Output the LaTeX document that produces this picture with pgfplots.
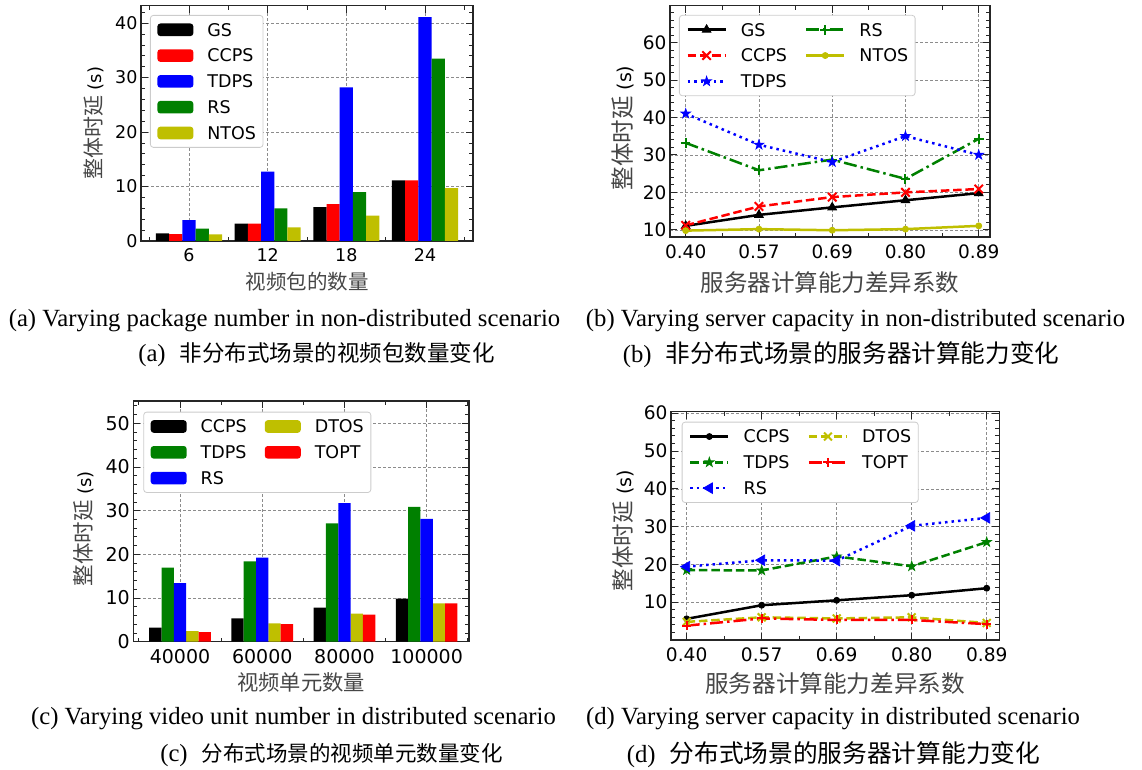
\documentclass[border=0pt]{standalone}
\usepackage{fontspec}
\setmainfont{Liberation Serif}
\newfontfamily\dv{DejaVu Sans}
\newfontfamily\cjk{Noto Sans CJK SC}
\usepackage{graphicx}
\usepackage{pgfplots}
\pgfplotsset{compat=1.18}
\usetikzlibrary{plotmarks}

\newcommand{\fs}[1]{\fontsize{#1}{#1}\selectfont}
\definecolor{mgreen}{RGB}{0,128,0}
\definecolor{myellow}{RGB}{191,191,0}
\definecolor{mred}{RGB}{255,0,0}
\definecolor{mblue}{RGB}{0,0,255}
\definecolor{lblc}{RGB}{70,70,70}

\pgfdeclareplotmark{fstar}{%
  \pgfpathmoveto{\pgfpointpolar{90}{1.3*\pgfplotmarksize}}%
  \pgfpathlineto{\pgfpointpolar{126}{0.5*\pgfplotmarksize}}%
  \pgfpathlineto{\pgfpointpolar{162}{1.3*\pgfplotmarksize}}%
  \pgfpathlineto{\pgfpointpolar{198}{0.5*\pgfplotmarksize}}%
  \pgfpathlineto{\pgfpointpolar{234}{1.3*\pgfplotmarksize}}%
  \pgfpathlineto{\pgfpointpolar{270}{0.5*\pgfplotmarksize}}%
  \pgfpathlineto{\pgfpointpolar{306}{1.3*\pgfplotmarksize}}%
  \pgfpathlineto{\pgfpointpolar{342}{0.5*\pgfplotmarksize}}%
  \pgfpathlineto{\pgfpointpolar{18}{1.3*\pgfplotmarksize}}%
  \pgfpathlineto{\pgfpointpolar{54}{0.5*\pgfplotmarksize}}%
  \pgfpathclose
  \pgfusepathqfillstroke
}

\pgfplotsset{
 common/.style={
  scale only axis, anchor=south west,
  tick align=inside, major tick length=7pt, minor tick length=4pt,
  tick style={black!85, line width=0.8pt},
  axis line style={black!85, line width=1.1pt},
  grid=major, grid style={black!45, line width=0.6pt, dash pattern=on 3pt off 2pt},
  /pgf/number format/assume math mode=true,
  xticklabel style={yshift=-4pt},
  legend cell align=left,
  legend style={draw=black!20, line width=0.8pt, rounded corners=3pt, fill=white,
    font=\dv\fs{17.5}, anchor=north west, inner xsep=7pt, inner ysep=8pt, row sep=13pt,
    nodes={inner sep=0pt, text height=12.8pt, text depth=0pt},
    /tikz/every odd column/.append style={column sep=14pt},
    /tikz/every even column/.append style={column sep=18pt}},
 },
 barleg/.style={legend image code/.code={\fill[##1] (0pt,-6.3pt) rectangle (36pt,6.3pt);}},
 lineleg/.style={legend image code/.code={\draw[##1, mark repeat=2, mark phase=2] plot coordinates {(0pt,0pt) (19pt,0pt) (38pt,0pt)};}},
 dashedm/.style={dash pattern=on 8.5pt off 3.8pt},
 dottedm/.style={dash pattern=on 2.5pt off 4pt},
 dashdotm/.style={dash pattern=on 13pt off 4pt on 2.5pt off 4pt},
}

\begin{document}
\begin{tikzpicture}
\useasboundingbox (0,0) rectangle (1142pt,770pt);

% ---------------- (a) ----------------
\begin{axis}[common, barleg, at={(141pt,529pt)}, width=332pt, height=235.3pt,
  xmin=-0.61, xmax=3.61, ymin=0, ymax=43.2,
  xtick={0,1,2,3}, xticklabels={6,12,18,24}, minor xtick={-0.5,0.5,1.5,2.5,3.5},
  ytick={0,10,20,30,40}, minor ytick={2,4,6,8,12,14,16,18,22,24,26,28,32,34,36,38,42},
  tick label style={font=\dv\fs{17.5}},
  xlabel={\color{lblc}\cjk\fs{20.5}视频包的数量},
  ylabel={{\color{lblc}\cjk\fs{21}整体时延}{\dv\fs{18}\ (s)}},
  every axis x label/.style={at={(axis description cs:0.5,0)}, anchor=center, yshift=-41pt},
  every axis y label/.style={at={(axis description cs:-0.1416,0.5)}, rotate=90, anchor=center},
  legend style={at={(0.0271,0.9605)}},
]
\addplot[ybar, bar width=0.168, bar shift=-0.336, fill=black, draw=none] coordinates {(0,1.41) (1,3.18) (2,6.24) (3,11.13)};
\addplot[ybar, bar width=0.168, bar shift=-0.168, fill=mred, draw=none] coordinates {(0,1.28) (1,3.18) (2,6.79) (3,11.13)};
\addplot[ybar, bar width=0.168, bar shift=0, fill=mblue, draw=none] coordinates {(0,3.85) (1,12.72) (2,28.2) (3,41.1)};
\addplot[ybar, bar width=0.168, bar shift=0.168, fill=mgreen, draw=none] coordinates {(0,2.26) (1,5.99) (2,8.99) (3,33.5)};
\addplot[ybar, bar width=0.168, bar shift=0.336, fill=myellow, draw=none] coordinates {(0,1.22) (1,2.5) (2,4.65) (3,9.72)};
\legend{GS,CCPS,TDPS,RS,NTOS}
\end{axis}

% ---------------- (b) ----------------
\begin{axis}[common, lineleg, at={(670pt,533pt)}, width=320pt, height=231.3pt,
  xmin=-0.214, xmax=4.154, ymin=8.1, ymax=69.8,
  xtick={0,1,2,3,4}, xticklabels={0.40,0.57,0.69,0.80,0.89}, minor xtick={0.5,1.5,2.5,3.5},
  ytick={10,20,30,40,50,60}, minor ytick={10,12,...,68},
  tick label style={font=\dv\fs{18.5}},
  xlabel={\color{lblc}\cjk\fs{23.5}服务器计算能力差异系数},
  ylabel={{\color{lblc}\cjk\fs{23.5}整体时延}{\dv\fs{19}\ (s)}},
  every axis x label/.style={at={(axis description cs:0.5,0)}, anchor=center, yshift=-45.5pt},
  every axis y label/.style={at={(axis description cs:-0.1469,0.471)}, rotate=90, anchor=center},
  legend style={at={(0.028,0.960)}}, legend columns=2,
]
\addplot[black, line width=2.5pt, mark=triangle*, mark size=5pt, mark options={solid, line width=0.8pt}] coordinates {(0,11.07) (1,14.0) (2,16.0) (3,17.9) (4,19.8)};
\addplot[mgreen, line width=2.5pt, dashdotm, mark=+, mark size=4.8pt, mark options={solid, line width=2pt}] coordinates {(0,33.2) (1,25.9) (2,28.75) (3,23.6) (4,34.3)};
\addplot[mred, line width=2.5pt, dashedm, mark=x, mark size=6pt, mark options={solid, line width=2pt}] coordinates {(0,11.2) (1,16.25) (2,18.75) (3,20.0) (4,20.9)};
\addplot[myellow, line width=2.5pt, mark=*, mark size=3pt, mark options={solid, line width=0.8pt}] coordinates {(0,9.8) (1,10.2) (2,9.9) (3,10.2) (4,11.07)};
\addplot[mblue, line width=2.5pt, dottedm, mark=fstar, mark size=3.8pt, mark options={solid, line width=0.8pt}] coordinates {(0,41.0) (1,32.7) (2,28.1) (3,35.0) (4,30.0)};
\legend{GS,RS,CCPS,NTOS,TDPS}
\end{axis}

% ---------------- (c) ----------------
\begin{axis}[common, barleg, at={(133.3pt,128.3pt)}, width=335.7pt, height=240.7pt,
  xmin=-0.568, xmax=3.515, ymin=0, ymax=55.1,
  xtick={0,1,2,3}, xticklabels={40000,60000,80000,100000}, minor xtick={-0.5,0.5,1.5,2.5,3.5},
  ytick={0,10,20,30,40,50}, minor ytick={2,4,...,54},
  tick label style={font=\dv\fs{19}},
  xlabel={\color{lblc}\cjk\fs{21.3}视频单元数量},
  ylabel={{\color{lblc}\cjk\fs{21.5}整体时延}{\dv\fs{18}\ (s)}},
  every axis x label/.style={at={(axis description cs:0.5,0)}, anchor=center, yshift=-41pt},
  every axis y label/.style={at={(axis description cs:-0.1469,0.469)}, rotate=90, anchor=center},
  legend style={at={(0.0298,0.9555)}}, legend columns=2,
]
\addplot[ybar, bar width=0.15, bar shift=-0.30, fill=black, draw=none] coordinates {(0,3.2) (1,5.34) (2,7.79) (3,9.85)};
\addplot[ybar, bar width=0.15, bar shift=0.15, fill=myellow, draw=none] coordinates {(0,2.44) (1,4.2) (2,6.41) (3,8.78)};
\addplot[ybar, bar width=0.15, bar shift=-0.15, fill=mgreen, draw=none] coordinates {(0,16.95) (1,18.4) (2,27.1) (3,30.84)};
\addplot[ybar, bar width=0.15, bar shift=0.30, fill=mred, draw=none] coordinates {(0,2.21) (1,4.05) (2,6.18) (3,8.78)};
\addplot[ybar, bar width=0.15, bar shift=0, fill=mblue, draw=none] coordinates {(0,13.4) (1,19.24) (2,31.7) (3,28.1)};
\legend{CCPS,DTOS,TDPS,TOPT,RS}
\end{axis}

% ---------------- (d) ----------------
\begin{axis}[common, lineleg, at={(671pt,130pt)}, width=328.3pt, height=228.3pt,
  xmin=-0.209, xmax=4.168, ymin=0, ymax=60.4,
  xtick={0,1,2,3,4}, xticklabels={0.40,0.57,0.69,0.80,0.89}, minor xtick={0.5,1.5,2.5,3.5},
  ytick={10,20,30,40,50,60}, minor ytick={2,4,...,60},
  tick label style={font=\dv\fs{18.6}},
  xlabel={\color{lblc}\cjk\fs{23.6}服务器计算能力差异系数},
  ylabel={{\color{lblc}\cjk\fs{22.5}整体时延}{\dv\fs{19}\ (s)}},
  every axis x label/.style={at={(axis description cs:0.5,0)}, anchor=center, yshift=-44pt},
  every axis y label/.style={at={(axis description cs:-0.1462,0.479)}, rotate=90, anchor=center},
  legend style={at={(0.0326,0.956)}}, legend columns=2,
]
\addplot[black, line width=2.5pt, mark=*, mark size=3pt, mark options={solid, line width=0.8pt}] coordinates {(0,5.6) (1,9.2) (2,10.5) (3,11.85) (4,13.7)};
\addplot[myellow, line width=2.5pt, dashedm, mark=x, mark size=5.5pt, mark options={solid, line width=2pt}] coordinates {(0,4.8) (1,6.0) (2,5.7) (3,6.0) (4,4.5)};
\addplot[mgreen, line width=2.5pt, dashedm, mark=fstar, mark size=3.8pt, mark options={solid, line width=0.8pt}] coordinates {(0,18.5) (1,18.4) (2,22.1) (3,19.5) (4,25.9)};
\addplot[mred, line width=2.5pt, dashdotm, mark=+, mark size=4.5pt, mark options={solid, line width=2pt}] coordinates {(0,3.8) (1,5.7) (2,5.3) (3,5.3) (4,4.2)};
\addplot[mblue, line width=2.5pt, dottedm, mark=triangle*, mark size=6pt, mark options={solid, rotate=90, line width=0.8pt}] coordinates {(0,19.4) (1,21.1) (2,21.0) (3,30.2) (4,32.3)};
\legend{CCPS,DTOS,TDPS,TOPT,RS}
\end{axis}

% ---------------- captions ----------------
\node at (284.5pt,449pt) {\fs{24.7}(a) Varying package number in non-distributed scenario};
\node at (855.5pt,449pt) {\fs{24.7}(b) Varying server capacity in non-distributed scenario};
\node at (316.5pt,415pt) {\fs{24.7}(a)\hspace{14pt}{\cjk\fs{22.5}非分布式场景的视频包数量变化}};
\node at (841pt,415pt) {\fs{24.7}(b)\hspace{14pt}{\cjk\fs{24.6}非分布式场景的服务器计算能力变化}};
\node at (293.5pt,51pt) {\fs{24.7}(c) Varying video unit number in distributed scenario};
\node at (833pt,51pt) {\fs{24.7}(d) Varying server capacity in distributed scenario};
\node at (331.5pt,15pt) {\fs{24.7}(c)\hspace{14pt}{\cjk\fs{21.5}分布式场景的视频单元数量变化}};
\node at (833.5pt,15pt) {\fs{24.7}(d)\hspace{14pt}{\cjk\fs{24.7}分布式场景的服务器计算能力变化}};
\end{tikzpicture}
\end{document}
